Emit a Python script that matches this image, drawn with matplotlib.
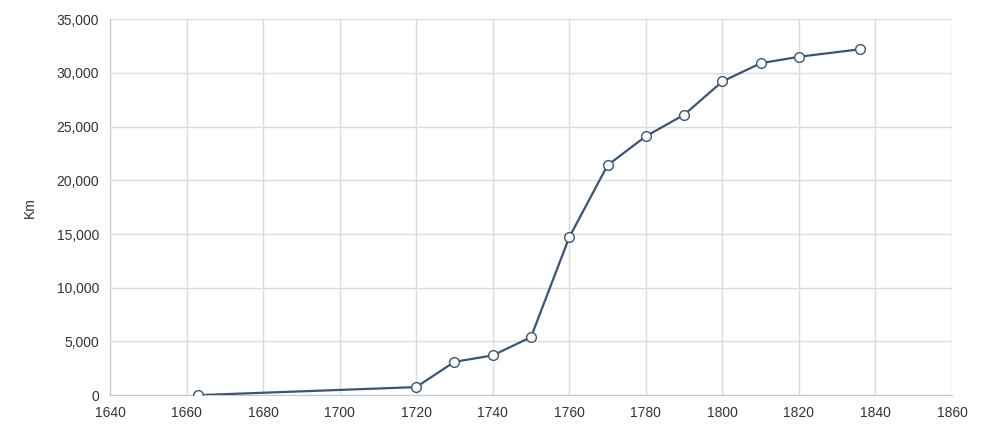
import matplotlib
matplotlib.use("Agg")
import matplotlib.pyplot as plt
from matplotlib.ticker import FuncFormatter

plt.rcParams['font.family'] = ['Liberation Sans Narrow', 'Liberation Sans', 'DejaVu Sans']

years = [1663, 1720, 1730, 1740, 1750, 1760, 1770, 1780, 1790, 1800, 1810, 1820, 1836]
km = [0, 750, 3100, 3700, 5400, 14700, 21400, 24100, 26100, 29200, 30900, 31500, 32200]

fig = plt.figure(figsize=(10, 4.46), dpi=100)
ax = fig.add_axes([0.11, 0.114, 0.842, 0.843])

ax.plot(years, km, color='#3d5570', linewidth=1.6, marker='o', markersize=7,
        markerfacecolor='white', markeredgecolor='#3d5570', markeredgewidth=1.0, zorder=3)

ax.set_xlim(1640, 1860)
ax.set_ylim(0, 35000)
ax.set_xticks(range(1640, 1861, 20))
ax.set_yticks(range(0, 35001, 5000))
ax.yaxis.set_major_formatter(FuncFormatter(lambda v, p: f"{int(v):,}"))

ax.grid(True, color='#dcdcdc', linewidth=1)
ax.set_axisbelow(True)
for s in ['top', 'right']:
    ax.spines[s].set_visible(False)
for s in ['left', 'bottom']:
    ax.spines[s].set_color('#c8c8c8')
ax.tick_params(length=0, labelsize=10, colors='#333333', pad=8)
ax.set_ylabel('Km', fontsize=10, color='#333333', labelpad=14)

fig.savefig('out.png', dpi=100)
